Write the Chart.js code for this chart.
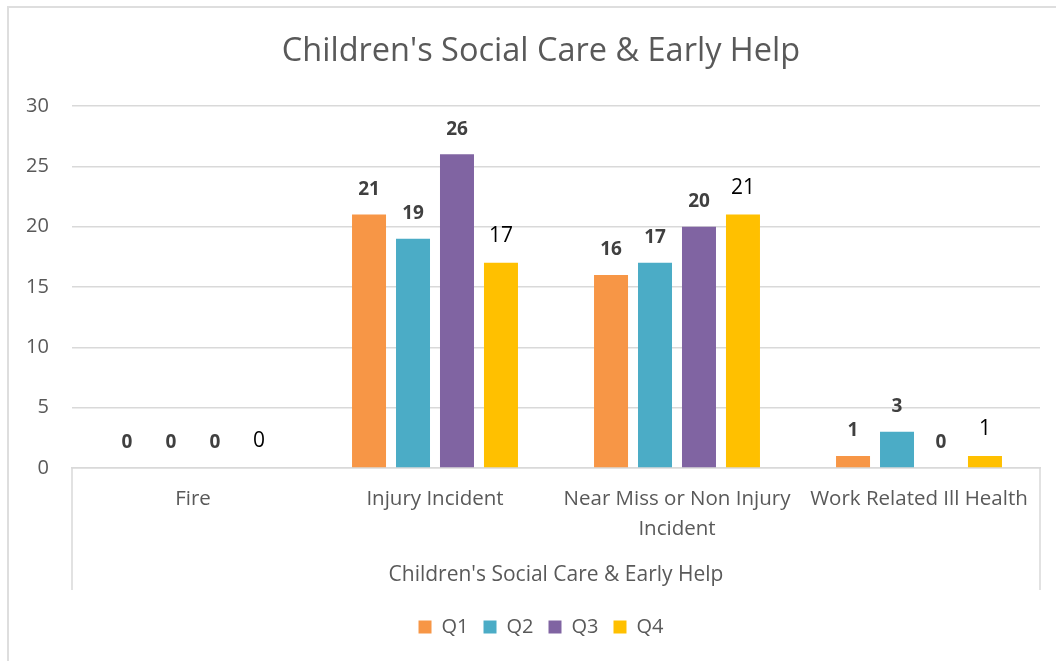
<!DOCTYPE html>
<html>
<head>
<meta charset="utf-8">
<script src="https://cdn.jsdelivr.net/npm/chart.js@4"></script>
<style>
  html, body { margin: 0; padding: 0; background: #fff; overflow: hidden; }
  #frame { position: absolute; left: 7px; top: 6px; width: 1100px; height: 700px;
           border-left: 2px solid #dedede; border-top: 2px solid #dedede; }
  #wrap { position: absolute; left: 0; top: 0; width: 1056px; height: 661px; }
</style>
</head>
<body>
<div id="frame"></div>
<div id="wrap"><canvas id="grafico"></canvas></div>
<script>
// dados -----------------------------------------
var categorias = ["Fire", "Injury Incident", ["Near Miss or Non Injury", "Incident"], "Work Related Ill Health"];
var trimestres = ["Q1", "Q2", "Q3", "Q4"];
var q1 = [0, 21, 16, 1];
var q2 = [0, 19, 17, 3];
var q3 = [0, 26, 20, 0];
var q4 = [0, 17, 21, 1];
var cores = ["#F79646", "#4BACC6", "#8064A2", "#FFC000"];
var titulo = "Children's Social Care & Early Help";

var fonte = "'Open Sans', sans-serif";
var cinza = "#595959";

// rótulos de valor em cima das barras
var rotulos = {
  id: "rotulos",
  afterDatasetsDraw: function (chart) {
    var ctx = chart.ctx;
    ctx.save();
    ctx.textAlign = "center";
    ctx.textBaseline = "middle";
    chart.data.datasets.forEach(function (ds, i) {
      var meta = chart.getDatasetMeta(i);
      var ultimo = i === 3;
      ctx.font = (ultimo ? "normal 21px " : "bold 19px ") + fonte;
      ctx.fillStyle = ultimo ? "#000" : "#404040";
      meta.data.forEach(function (bar, j) {
        ctx.fillText(String(ds.data[j]), bar.x, bar.y - (ultimo ? 27 : 25));
      });
    });
    ctx.restore();
  }
};

// linhas verticais do eixo de dois níveis
var colchete = {
  id: "colchete",
  afterDraw: function (chart) {
    var a = chart.chartArea, ctx = chart.ctx;
    ctx.save();
    ctx.strokeStyle = "#d9d9d9";
    ctx.lineWidth = 1.5;
    ctx.beginPath();
    ctx.moveTo(a.left, a.bottom); ctx.lineTo(a.left, 590);
    ctx.moveTo(a.right, a.bottom); ctx.lineTo(a.right, 590);
    ctx.stroke();
    ctx.restore();
  }
};

var series = [q1, q2, q3, q4];

new Chart(document.getElementById("grafico"), {
  type: "bar",
  data: {
    labels: categorias,
    datasets: series.map(function (v, i) {
      return {
        label: trimestres[i],
        data: v,
        backgroundColor: cores[i],
        categoryPercentage: 0.727,
        barPercentage: 0.773
      };
    })
  },
  options: {
    responsive: true,
    maintainAspectRatio: false,
    animation: false,
    layout: { padding: { left: 42, right: 16, top: 0, bottom: 14 } },
    plugins: {
      tooltip: { enabled: false },
      title: {
        display: true,
        text: titulo,
        color: cinza,
        font: { family: fonte, size: 32.5, weight: "normal", lineHeight: 1.2 },
        padding: { top: 32, bottom: 35 }
      },
      legend: {
        position: "bottom",
        labels: {
          color: cinza,
          boxWidth: 13,
          boxHeight: 13,
          padding: 15,
          font: { family: fonte, size: 20 }
        }
      }
    },
    scales: {
      x: {
        grid: { display: false, drawTicks: false },
        border: { display: true, color: "#d9d9d9", width: 1.5 },
        ticks: {
          color: cinza,
          padding: 16,
          maxRotation: 0,
          autoSkip: false,
          font: { family: fonte, size: 20.5, lineHeight: "30px" }
        },
        title: {
          display: true,
          text: titulo,
          color: cinza,
          font: { family: fonte, size: 21, lineHeight: 1.2 },
          padding: { top: 0, bottom: 14 }
        },
        afterFit: function (s) { s.height = 134; }
      },
      y: {
        min: 0,
        max: 30,
        ticks: {
          stepSize: 5,
          color: cinza,
          mirror: true,
          crossAlign: "far",
          padding: -46,
          font: { family: fonte, size: 20 }
        },
        grid: { color: "#d9d9d9", lineWidth: 1.5, drawTicks: false },
        border: { display: false },
        afterFit: function (s) { s.width = 30; }
      }
    }
  },
  plugins: [rotulos, colchete]
});
</script>
</body>
</html>
